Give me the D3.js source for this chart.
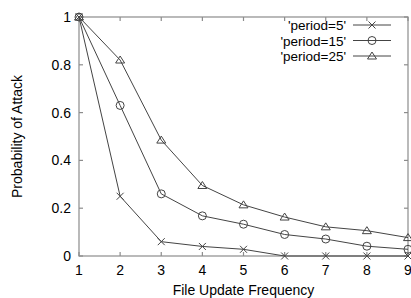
<!DOCTYPE html>
<html>
<head>
<meta charset="utf-8">
<script src="https://cdn.jsdelivr.net/npm/d3@7"></script>
<style>
  body { margin: 0; background: #fff; }
  text { font-family: "Liberation Sans", Arial, sans-serif; fill: #000; }
</style>
</head>
<body>
<script>
'use strict';

const WIDTH = 411;
const HEIGHT = 298;

const MARGIN = {top: 17, right: 3, bottom: 42, left: 79};

const FREQUENCIES = [1, 2, 3, 4, 5, 6, 7, 8, 9];
const SERIES_NAMES = ["'period=5'", "'period=15'", "'period=25'"];
const PERIOD_5 = [1, 0.25, 0.06, 0.04, 0.028, 0, 0, 0, 0];
const PERIOD_15 = [1, 0.63, 0.26, 0.168, 0.133, 0.09, 0.071, 0.041, 0.028];
const PERIOD_25 = [1, 0.82, 0.485, 0.295, 0.214, 0.163, 0.122, 0.106, 0.077];
const MARKERS = ['cross', 'circle', 'triangle'];

const Y_TICKS = [0, 0.2, 0.4, 0.6, 0.8, 1];

const FONT_SIZE = 14;
const LEGEND_FONT_SIZE = 13.5;
const FRAME_COLOR = '#8c8c8c';
const LINE_COLOR = '#444';

function drawMarker(g, kind, x, y) {
    if (kind === 'cross') {
        g.append('path')
                .attr('d', `M${x - 3.5},${y - 3.5}L${x + 3.5},${y + 3.5}M${x - 3.5},${y + 3.5}L${x + 3.5},${y - 3.5}`)
                .attr('stroke', LINE_COLOR).attr('fill', 'none');
    } else if (kind === 'circle') {
        g.append('circle')
                .attr('cx', x).attr('cy', y).attr('r', 4)
                .attr('stroke', LINE_COLOR).attr('fill', 'none');
    } else {
        g.append('path')
                .attr('d', `M${x},${y - 4}L${x + 4.5},${y + 3}L${x - 4.5},${y + 3}Z`)
                .attr('stroke', LINE_COLOR).attr('fill', 'none');
    }
}

function main() {
    const series = [PERIOD_5, PERIOD_15, PERIOD_25];

    const svg = d3.select('body')
            .append('svg')
            .attr('width', WIDTH)
            .attr('height', HEIGHT);

    const x = d3.scaleLinear()
            .domain([1, 9])
            .range([MARGIN.left, WIDTH - MARGIN.right]);

    const y = d3.scaleLinear()
            .domain([0, 1])
            .range([HEIGHT - MARGIN.bottom, MARGIN.top]);

    // Frame with inward ticks on all four sides (gnuplot style).
    const frame = svg.append('g')
            .attr('stroke', FRAME_COLOR)
            .attr('fill', 'none')
            .attr('stroke-width', 1.2);

    frame.append('rect')
            .attr('x', x(1)).attr('y', y(1))
            .attr('width', x(9) - x(1))
            .attr('height', y(0) - y(1));

    FREQUENCIES.forEach(function(f) {
        frame.append('line').attr('x1', x(f)).attr('x2', x(f))
                .attr('y1', y(0)).attr('y2', y(0) - 4);
        frame.append('line').attr('x1', x(f)).attr('x2', x(f))
                .attr('y1', y(1)).attr('y2', y(1) + 4);
    });
    Y_TICKS.forEach(function(t) {
        frame.append('line').attr('x1', x(1)).attr('x2', x(1) + 4)
                .attr('y1', y(t)).attr('y2', y(t));
        frame.append('line').attr('x1', x(9)).attr('x2', x(9) - 4)
                .attr('y1', y(t)).attr('y2', y(t));
    });

    // Tick labels.
    svg.append('g').selectAll('text')
            .data(FREQUENCIES)
            .enter()
            .append('text')
            .attr('x', d => x(d))
            .attr('y', y(0) + 19)
            .attr('text-anchor', 'middle')
            .attr('font-size', FONT_SIZE)
            .text(d => d);

    svg.append('g').selectAll('text')
            .data(Y_TICKS)
            .enter()
            .append('text')
            .attr('x', x(1) - 8)
            .attr('y', d => y(d) + 5)
            .attr('text-anchor', 'end')
            .attr('font-size', FONT_SIZE)
            .text(d => d3.format('')(d));

    // Axis titles.
    svg.append('text')
            .attr('x', (x(1) + x(9)) / 2)
            .attr('y', HEIGHT - 3)
            .attr('text-anchor', 'middle')
            .attr('font-size', FONT_SIZE)
            .text('File Update Frequency');

    svg.append('text')
            .attr('transform', `translate(22, ${(y(0) + y(1)) / 2}) rotate(-90)`)
            .attr('text-anchor', 'middle')
            .attr('font-size', FONT_SIZE)
            .text('Probability of Attack');

    // Series lines and markers.
    const line = d3.line()
            .x((d, i) => x(FREQUENCIES[i]))
            .y(d => y(d));

    series.forEach(function(values, s) {
        const g = svg.append('g');
        g.append('path')
                .attr('d', line(values))
                .attr('fill', 'none')
                .attr('stroke', LINE_COLOR)
                .attr('stroke-width', 1);
        values.forEach(function(v, i) {
            drawMarker(g, MARKERS[s], x(FREQUENCIES[i]), y(v));
        });
    });

    // Legend.
    const legend = svg.append('g');
    SERIES_NAMES.forEach(function(name, s) {
        const ly = 25 + s * 15.5;
        legend.append('text')
                .attr('x', 346)
                .attr('y', ly + 5)
                .attr('text-anchor', 'end')
                .attr('font-size', LEGEND_FONT_SIZE)
                .text(name);
        legend.append('line')
                .attr('x1', 353).attr('x2', 391)
                .attr('y1', ly).attr('y2', ly)
                .attr('stroke', LINE_COLOR);
        drawMarker(legend, MARKERS[s], 372, ly);
    });
}

document.addEventListener('DOMContentLoaded', function() {
    main();
});
</script>
</body>
</html>
